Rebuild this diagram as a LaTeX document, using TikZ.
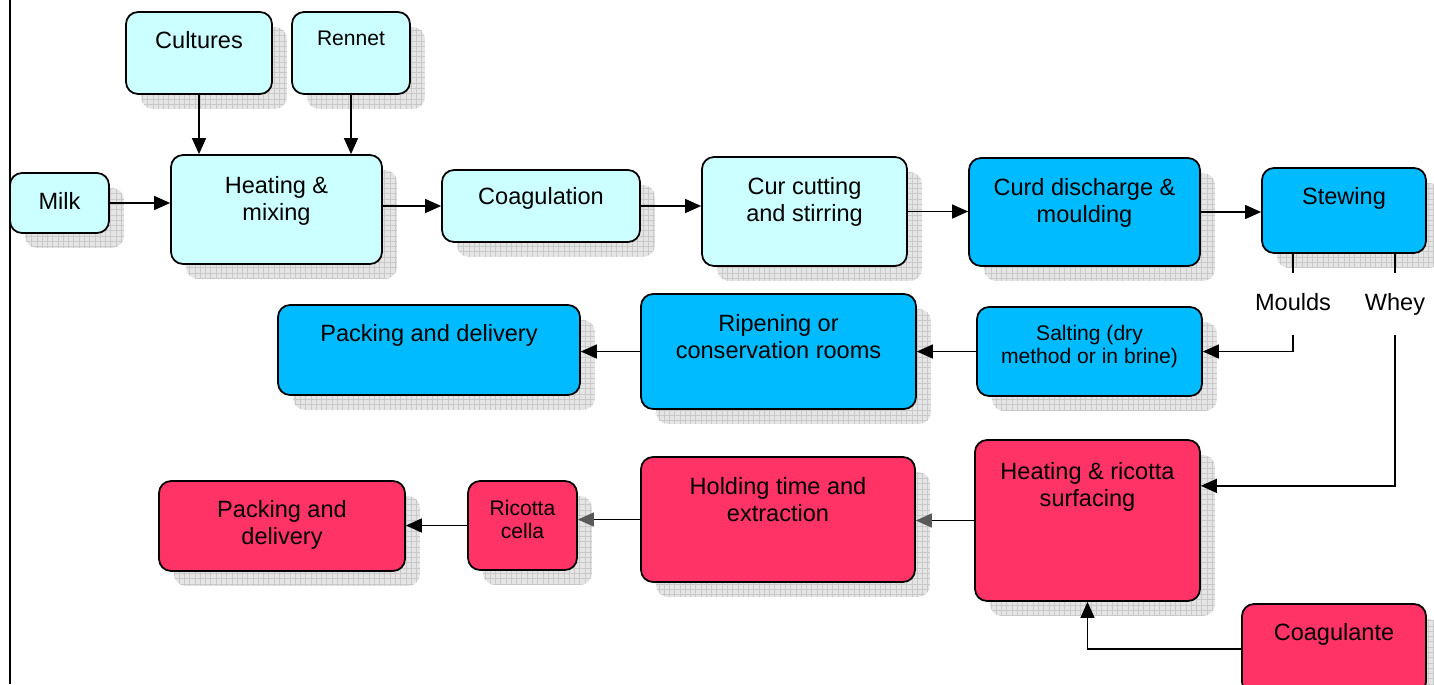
\documentclass[tikz,border=0pt]{standalone}
\usepackage{fontspec}
\setmainfont{Liberation Sans}
\usetikzlibrary{arrows.meta,shadows,patterns}
\definecolor{pale}{HTML}{CCFFFF}
\definecolor{sky}{HTML}{00BBFF}
\definecolor{rose}{HTML}{FF3366}
\tikzset{
	box/.style={draw,line width=1pt,rounded corners=0.24cm,inner sep=0,
		general shadow={shadow xshift=0.3cm,shadow yshift=-0.3cm,fill=gray!20},
		general shadow={shadow xshift=0.3cm,shadow yshift=-0.3cm,pattern=grid,pattern color=gray!42}},
	txt/.style={align=center,anchor=base,inner sep=0,font=\fontsize{13.4}{15.4}\selectfont},
	small/.style={txt,font=\fontsize{12}{13}\selectfont},
	branch/.style={txt,text height=0.72cm,text depth=0.48cm},
	greytip/.style={-{Triangle[length=0.32cm,width=0.28cm,color=black!65]}}
}
\begin{document}
\begin{tikzpicture}[>={Triangle[length=0.32cm,width=0.28cm]},x=0.02cm,y=-0.02cm,line width=0.8pt]
		\useasboundingbox (0,0) rectangle (1434,684);
		\draw (10,0)--(10,684);
		% first row
		\node[box,fill=pale,minimum width=2.92cm,minimum height=1.64cm] (cult) at (199,53) {};
		\node[box,fill=pale,minimum width=2.36cm,minimum height=1.64cm] (renn) at (351,53) {};
		\node[box,fill=pale,minimum width=1.98cm,minimum height=1.2cm] (milk) at (59.5,203) {};
		\node[box,fill=pale,minimum width=4.22cm,minimum height=2.18cm] (heat) at (276.5,209.5) {};
		\node[box,fill=pale,minimum width=3.96cm,minimum height=1.44cm] (coag) at (541,206) {};
		\node[box,fill=pale,minimum width=4.1cm,minimum height=2.18cm] (cut) at (804.5,211.5) {};
		\node[box,fill=sky,minimum width=4.62cm,minimum height=2.16cm] (curd) at (1084.5,212) {};
		\node[box,fill=sky,minimum width=3.28cm,minimum height=1.7cm] (stew) at (1344,210.5) {};
		\node[txt] (cult-t) at ([yshift=-0.74cm]cult.north) {Cultures};
		\node[small] (renn-t) at ([yshift=-0.68cm]renn.north) {Rennet};
		\node[txt] (milk-t) at ([yshift=-0.74cm]milk.north) {Milk};
		\node[txt] (heat-t) at ([yshift=-1.32cm]heat.north) {Heating \&\\mixing};
		\node[txt] (coag-t) at ([yshift=-0.7cm]coag.north) {Coagulation};
		\node[txt] (cut-t) at ([yshift=-1.3cm]cut.north) {Cur cutting\\and stirring};
		\node[txt] (curd-t) at ([yshift=-1.3cm]curd.north) {Curd discharge \&\\moulding};
		\node[txt] (stew-t) at ([yshift=-0.74cm]stew.north) {Stewing};
		\node[branch] (mould) at (1293,310) {Moulds};
		\node[branch] (whey) at (1395,310) {Whey};
		% second row
		\node[box,fill=sky,minimum width=6.04cm,minimum height=1.8cm] (packb) at (429,350) {};
		\node[box,fill=sky,minimum width=5.5cm,minimum height=2.3cm] (ripen) at (778.5,351.5) {};
		\node[box,fill=sky,minimum width=4.5cm,minimum height=1.78cm] (salt) at (1089.5,351.5) {};
		\node[txt] (packb-t) at ([yshift=-0.74cm]packb.north) {Packing and delivery};
		\node[txt] (ripen-t) at ([yshift=-1.3cm]ripen.north) {Ripening or\\conservation rooms};
		\node[small] (salt-t) at ([yshift=-1.14cm]salt.north) {Salting (dry\\method or in brine)};
		% third row
		\node[box,fill=rose,minimum width=4.5cm,minimum height=3.22cm] (hric) at (1087.5,520.5) {};
		\node[box,fill=rose,minimum width=5.48cm,minimum height=2.5cm] (hold) at (778,519.5) {};
		\node[box,fill=rose,minimum width=2.18cm,minimum height=1.78cm] (rcel) at (522.5,525.5) {};
		\node[box,fill=rose,minimum width=4.92cm,minimum height=1.8cm] (packr) at (282,526) {};
		\node[box,fill=rose,minimum width=3.68cm,minimum height=1.8cm] (coagu) at (1334,649) {};
		\node[txt] (hric-t) at ([yshift=-1.34cm]hric.north) {Heating \& ricotta\\surfacing};
		\node[txt] (hold-t) at ([yshift=-1.3cm]hold.north) {Holding time and\\extraction};
		\node[small] (rcel-t) at ([yshift=-1.16cm]rcel.north) {Ricotta\\cella};
		\node[txt] (packr-t) at ([yshift=-1.28cm]packr.north) {Packing and\\delivery};
		\node[txt] (coagu-t) at ([yshift=-0.74cm]coagu.north) {Coagulante};
		% connectors
		\draw[->] (cult.south)--(cult.south |- heat.north);
		\draw[->] (renn.south)--(renn.south |- heat.north);
		\draw[->] (milk.east)--(milk.east -| heat.west);
		\draw[->] (heat.east |- coag.west)--(coag.west);
		\draw[->] (coag.east)--(coag.east -| cut.west);
		\draw[->] (cut.east)--(cut.east -| curd.west);
		\draw[->] (curd.east)--(curd.east -| stew.west);
		\draw (stew.south -| mould.north)--(mould.north);
		\draw (stew.south -| whey.north)--(whey.north);
		\draw[->] (mould.south) |- (salt.east);
		\draw[->] (whey.south) |- (hric.17);
		\draw[->] (salt.west)--(salt.west -| ripen.east);
		\draw[->] (ripen.west)--(ripen.west -| packb.east);
		\draw[greytip] (hric.west)--(hric.west -| hold.east);
		\draw[greytip] (hold.west)--(hold.west -| rcel.east);
		\draw[->] (rcel.west)--(rcel.west -| packr.east);
		\draw[->] (coagu.west) -| (hric.south);
		\end{tikzpicture}
\end{document}
